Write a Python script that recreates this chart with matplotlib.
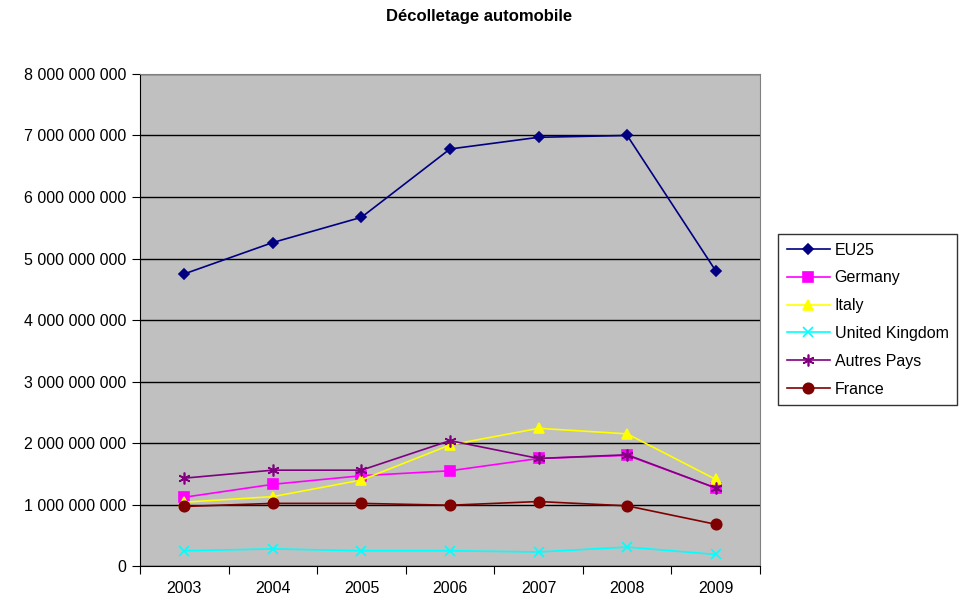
import matplotlib.pyplot as plt
import matplotlib.ticker as mticker
import numpy as np

years = ["2003", "2004", "2005", "2006", "2007", "2008", "2009"]
eu25 = [4.75e9, 5.26e9, 5.67e9, 6.78e9, 6.97e9, 7.00e9, 4.80e9]
germany = [1.12e9, 1.33e9, 1.47e9, 1.55e9, 1.75e9, 1.80e9, 1.27e9]
italy = [1.04e9, 1.13e9, 1.40e9, 1.97e9, 2.24e9, 2.15e9, 1.41e9]
uk = [0.25e9, 0.28e9, 0.25e9, 0.25e9, 0.23e9, 0.31e9, 0.19e9]
autres = [1.43e9, 1.56e9, 1.56e9, 2.04e9, 1.75e9, 1.81e9, 1.27e9]
france = [0.97e9, 1.02e9, 1.02e9, 0.99e9, 1.05e9, 0.98e9, 0.68e9]

plt.rcParams['font.family'] = ['Liberation Sans', 'DejaVu Sans']

fig = plt.figure(figsize=(9.59, 6.01), dpi=100)
ax = fig.add_axes([0.146, 0.058, 0.6465, 0.819])
ax.set_facecolor('#C0C0C0')

x = np.arange(len(years))
series = [
    ("EU25", eu25, '#000080', 'D', 5.5),
    ("Germany", germany, '#FF00FF', 's', 7.5),
    ("Italy", italy, '#FFFF00', '^', 7.5),
    ("United Kingdom", uk, '#00FFFF', 'x', 7),
    ("Autres Pays", autres, '#800080', (6, 2, 0), 8.5),
    ("France", france, '#800000', 'o', 7.5),
]
for name, vals, col, mk, ms in series:
    ax.plot(x, vals, color=col, marker=mk, markersize=ms, linewidth=1.2,
            markeredgewidth=1.2, label=name, zorder=3)

ax.set_ylim(0, 8e9)
ax.set_xlim(-0.5, len(years) - 0.5)
ax.yaxis.set_major_locator(mticker.MultipleLocator(1e9))
ax.yaxis.set_major_formatter(mticker.FuncFormatter(lambda v, p: f"{int(v):,}".replace(",", " ")))
ax.grid(axis='y', color='black', linewidth=1)
ax.set_axisbelow(True)

ax.set_xticks(np.arange(-0.5, len(years), 1))
ax.set_xticklabels([])
ax.set_xticks(x, minor=True)
ax.set_xticklabels(years, minor=True)
ax.tick_params(axis='x', which='minor', length=0, labelsize=11.5, pad=11)
ax.tick_params(axis='x', which='major', length=6, direction='out', color='black')
ax.tick_params(axis='y', length=6, direction='out', labelsize=11.5, pad=4)

for s in ['top', 'right']:
    ax.spines[s].set_color('#808080')
for s in ['left', 'bottom']:
    ax.spines[s].set_color('black')

fig.text(0.5, 0.972, "Décolletage automobile", ha='center', va='center',
         fontsize=12, fontweight='bold')

leg = ax.legend(loc='upper left', bbox_to_anchor=(1.029, 0.675), fontsize=11.5,
                frameon=True, fancybox=False, edgecolor='black', facecolor='white',
                handlelength=2.7, borderpad=0.55, labelspacing=0.8, handletextpad=0.3,
                borderaxespad=0)
leg.get_frame().set_linewidth(1)

fig.savefig('out.png', dpi=100)
